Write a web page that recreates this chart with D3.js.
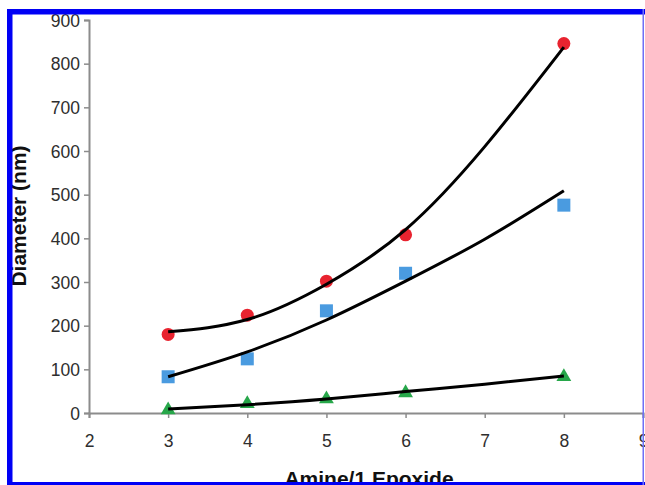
<!DOCTYPE html>
<html>
<head>
<meta charset="utf-8">
<script src="https://cdn.jsdelivr.net/npm/d3@7"></script>
<style>
  body { margin: 0; background: #fff; }
  svg { display: block; }
  text { font-family: "Liberation Sans", Arial, sans-serif; }
</style>
</head>
<body>
<svg width="645" height="485"></svg>
<script>
//	DATA

var xTicks = [2, 3, 4, 5, 6, 7, 8, 9],
	yTicks = [0, 100, 200, 300, 400, 500, 600, 700, 800, 900];

var ratio = [3, 4, 5, 6, 8];            // amine per 1 epoxide
var red   = [180, 224, 302, 408, 846],  // circles
	blue  = [83, 124, 234, 320, 476],   // squares
	green = [7, 21, 32, 46, 83];        // triangles

// trend lines, read at every integer ratio
var trendX     = [3, 4, 5, 6, 7, 8],
	trendRed   = [186, 214, 295, 420, 610, 838],
	trendBlue  = [83, 140, 213, 302, 398, 509],
	trendGreen = [9, 19, 32, 49, 66, 85];

var svg = d3.select("svg");

var x = d3.scaleLinear().domain([2, 9]).range([89, 643]),
	y = d3.scaleLinear().domain([0, 900]).range([413, 20]);

var axisColor = "#8c8c8c", labelColor = "#2e2e2e";

//	AXES

var gx = svg.append("g")
	.attr("transform", "translate(0," + y(0) + ")")
	.call(d3.axisBottom(x).tickValues(xTicks).tickSize(5).tickPadding(17).tickFormat(d3.format("d")));

var gy = svg.append("g")
	.attr("transform", "translate(" + x(2) + ",0)")
	.call(d3.axisLeft(y).tickValues(yTicks).tickSize(5).tickPadding(4).tickFormat(d3.format("d")));

[gx, gy].forEach(function(g) {
	g.select(".domain").attr("stroke", axisColor).attr("stroke-width", 2);
	g.selectAll(".tick line").attr("stroke", axisColor).attr("stroke-width", 1.5);
	g.selectAll(".tick text")
		.attr("fill", labelColor)
		.style("font-size", "17.5px")
		.style("font-family", "'Liberation Sans', Arial, sans-serif");
});
gy.selectAll(".tick text").attr("dy", "0.36em");

//	MARKERS

function pts(vals) { return ratio.map(function(r, i) { return [r, vals[i]]; }); }

svg.append("g").selectAll("circle")
	.data(pts(red)).enter().append("circle")
	.attr("cx", function(d) { return x(d[0]); })
	.attr("cy", function(d) { return y(d[1]); })
	.attr("r", 6.5)
	.attr("fill", "#e8232f");

svg.append("g").selectAll("rect")
	.data(pts(blue)).enter().append("rect")
	.attr("x", function(d) { return x(d[0]) - 6.5; })
	.attr("y", function(d) { return y(d[1]) - 6.5; })
	.attr("width", 13).attr("height", 13)
	.attr("fill", "#4a9be0");

var tri = d3.symbol().type(d3.symbolTriangle).size(95);
svg.append("g").selectAll("path")
	.data(pts(green)).enter().append("path")
	.attr("transform", function(d) { return "translate(" + x(d[0]) + "," + y(d[1]) + ")"; })
	.attr("d", tri)
	.attr("fill", "#27a74a");

//	TREND LINES

var line = d3.line()
	.x(function(d) { return x(d[0]); })
	.y(function(d) { return y(d[1]); })
	.curve(d3.curveNatural);

[trendRed, trendBlue, trendGreen].forEach(function(t) {
	svg.append("path")
		.datum(trendX.map(function(r, i) { return [r, t[i]]; }))
		.attr("d", line)
		.attr("fill", "none")
		.attr("stroke", "#000")
		.attr("stroke-width", 3);
});

//	TITLES

svg.append("text")
	.attr("x", 369).attr("y", 486)
	.attr("text-anchor", "middle")
	.style("font-size", "21px").style("font-weight", "bold")
	.attr("fill", "#111")
	.text("Amine/1 Epoxide");

svg.append("text")
	.attr("transform", "translate(26,216) rotate(-90)")
	.attr("text-anchor", "middle")
	.style("font-size", "21px").style("font-weight", "bold")
	.attr("fill", "#111")
	.text("Diameter (nm)");

//	FRAME

svg.append("rect").attr("x", 0).attr("y", 0).attr("width", 645).attr("height", 9).attr("fill", "#fff");
svg.append("rect").attr("x", 0).attr("y", 0).attr("width", 7).attr("height", 485).attr("fill", "#fff");
svg.append("rect").attr("x", 7).attr("y", 9).attr("width", 638).attr("height", 5.5).attr("fill", "#0000f5");
svg.append("rect").attr("x", 7).attr("y", 9).attr("width", 5.5).attr("height", 476).attr("fill", "#0000f5");
svg.append("rect").attr("x", 7).attr("y", 482).attr("width", 638).attr("height", 3).attr("fill", "#0000f5");
svg.append("rect").attr("x", 642.5).attr("y", 9).attr("width", 1.5).attr("height", 476).attr("fill", "#6f6ff5");
</script>
</body>
</html>
